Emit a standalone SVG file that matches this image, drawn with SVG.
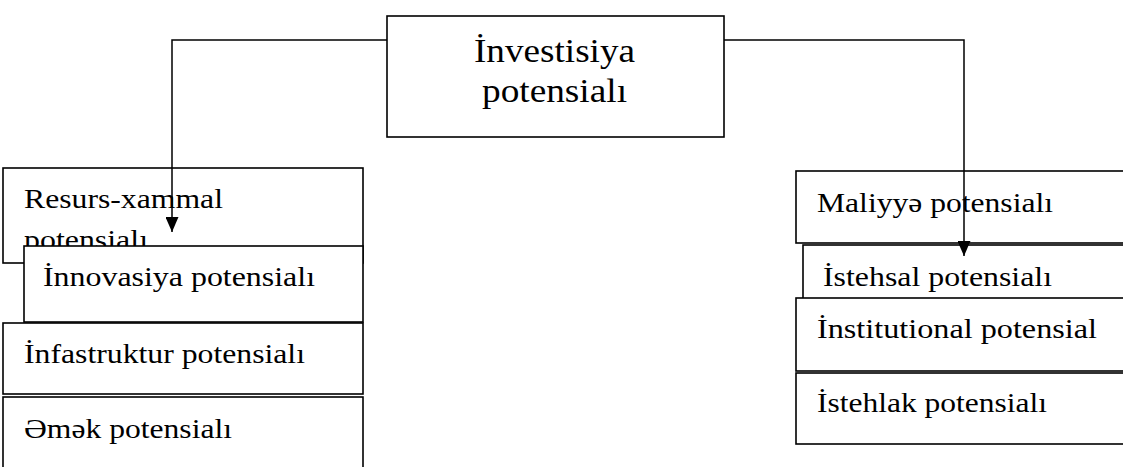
<svg xmlns="http://www.w3.org/2000/svg" width="1123" height="467" viewBox="0 0 1123 467">
<style>
.box{fill:#fff;stroke:#000;stroke-width:1.6}
.t{font-family:"Liberation Serif","Times New Roman",serif;font-size:28px;fill:#000}
.tt{font-family:"Liberation Serif","Times New Roman",serif;font-size:33px;fill:#000}
.c{fill:none;stroke:#000;stroke-width:1.5}
</style>
<defs>
<marker id="ah" viewBox="0 0 15 13" refX="15" refY="6.5" markerWidth="15" markerHeight="13" markerUnits="userSpaceOnUse" orient="auto">
<path d="M0,0 L15,6.5 L0,13 Z" fill="#000"/>
</marker>
</defs>
<rect width="1123" height="467" fill="#fff"/>
<g id="investisiya">
<rect class="box" x="387" y="16" width="337" height="121"/>
<text class="tt" x="474" y="62" textLength="161" lengthAdjust="spacingAndGlyphs">İnvestisiya</text>
<text class="tt" x="482" y="102" textLength="145" lengthAdjust="spacingAndGlyphs">potensialı</text>
</g>
<g id="resurs">
<rect class="box" x="3" y="168" width="360" height="95"/>
<text class="t" x="24" y="208" textLength="199" lengthAdjust="spacingAndGlyphs">Resurs-xammal</text>
<text class="t" x="24" y="249" textLength="124" lengthAdjust="spacingAndGlyphs">potensialı</text>
</g>
<g id="innovasiya">
<rect class="box" x="24" y="246" width="339" height="76"/>
<text class="t" x="43" y="286" textLength="272" lengthAdjust="spacingAndGlyphs">İnnovasiya potensialı</text>
</g>
<g id="infastruktur">
<rect class="box" x="3" y="323" width="360" height="71"/>
<text class="t" x="24" y="363" textLength="281" lengthAdjust="spacingAndGlyphs">İnfastruktur potensialı</text>
</g>
<g id="emek">
<rect class="box" x="3" y="397" width="360" height="80"/>
<text class="t" x="24" y="438" textLength="208" lengthAdjust="spacingAndGlyphs">Əmək potensialı</text>
</g>
<g id="maliyye">
<rect class="box" x="796" y="171" width="340" height="72"/>
<text class="t" x="817" y="212" textLength="236" lengthAdjust="spacingAndGlyphs">Maliyyə potensialı</text>
</g>
<g id="istehsal">
<rect class="box" x="803" y="245" width="333" height="60"/>
<text class="t" x="823" y="286" textLength="229" lengthAdjust="spacingAndGlyphs">İstehsal potensialı</text>
</g>
<g id="institutional">
<rect class="box" x="796" y="298" width="340" height="73"/>
<text class="t" x="817" y="338" textLength="280" lengthAdjust="spacingAndGlyphs">İnstitutional potensial</text>
</g>
<g id="istehlak">
<rect class="box" x="796" y="373" width="340" height="71"/>
<text class="t" x="817" y="412" textLength="230" lengthAdjust="spacingAndGlyphs">İstehlak potensialı</text>
</g>
<g id="connectors">
<path class="c" d="M387,40 H172 V232" marker-end="url(#ah)"/>
<path class="c" d="M724,40 H964 V256" marker-end="url(#ah)"/>
</g>
</svg>
